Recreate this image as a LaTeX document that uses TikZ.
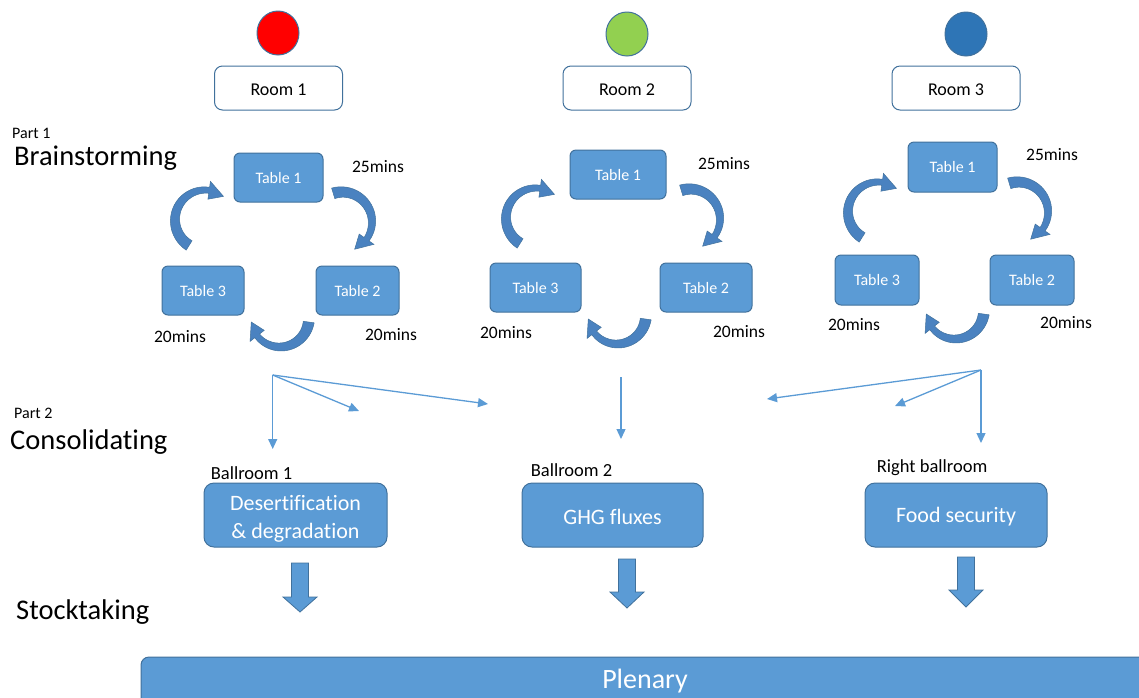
\documentclass[tikz,border=0pt]{standalone}
\usepackage{fontspec}
\setmainfont{Carlito}[Ligatures=NoCommon]
\usetikzlibrary{arrows.meta,shapes.geometric}
\definecolor{bfill}{RGB}{91,155,213}
\definecolor{bord}{RGB}{65,113,156}
\definecolor{carrfill}{RGB}{74,130,192}
\definecolor{cgreen}{RGB}{146,208,80}
\definecolor{cblue}{RGB}{46,117,182}
\newcommand\fsz[1]{\fontsize{#1}{#1}\selectfont}
\newcommand\dropby[2]{\raisebox{-#1}[\height][\depth]{#2}}
% curved block arrow: cx cy R startangle endangle
\newcommand\carr[5]{%
 \pgfmathsetmacro\hs{#5-30}%
 \fill[carrfill, draw=bord, line width=0.5pt]
 plot[domain=#4:\hs, samples=25] ({#1+(#3+(11-5*(\x-(#4))/(\hs-(#4)))/2)*cos(\x)},{#2+(#3+(11-5*(\x-(#4))/(\hs-(#4)))/2)*sin(\x)})
 -- ({#1+(#3+9)*cos(\hs)},{#2+(#3+9)*sin(\hs)})
 -- ({#1+#3*cos(#5)},{#2+#3*sin(#5)})
 -- ({#1+(#3-9)*cos(\hs)},{#2+(#3-9)*sin(\hs)})
 -- plot[domain=\hs:#4, samples=25] ({#1+(#3-(11-5*(\x-(#4))/(\hs-(#4)))/2)*cos(\x)},{#2+(#3-(11-5*(\x-(#4))/(\hs-(#4)))/2)*sin(\x)})
 -- cycle;}
% block down arrow: x ytop yhead ytip
\newcommand\darr[4]{%
 \fill[bfill, draw=bord, line width=0.8pt] ({#1-8.5},#2) -- ({#1+8.5},#2) -- ({#1+8.5},#3) -- ({#1+17},#3) -- (#1,#4) -- ({#1-17},#3) -- ({#1-8.5},#3) -- cycle;}
\begin{document}
\begin{tikzpicture}[x=1pt,y=-1pt,
  tbl/.style={draw=bord, fill=bfill, line width=1pt, rounded corners=6pt, text=white, font=\fsz{16}, minimum height=49pt, inner sep=0pt},
  roombox/.style={draw=bord, fill=white, line width=1pt, rounded corners=8pt, font=\fsz{18}, minimum width=128pt, minimum height=44pt, inner sep=0pt},
  ballbox/.style={draw=bord, fill=bfill, line width=1pt, rounded corners=10pt, text=white, font=\fontsize{22}{28}\selectfont, minimum height=64pt, inner sep=0pt, align=center},
  dot/.style={ellipse, draw=bord, line width=1pt, minimum width=42pt, minimum height=44pt, inner sep=0pt},
  lbl/.style={inner sep=0pt, font=\fsz{17.5}},
  head/.style={inner sep=0pt, anchor=west, font=\fsz{28.5}},
  part/.style={inner sep=0pt, anchor=west, font=\fsz{16}},
  blbl/.style={inner sep=0pt, anchor=west, font=\fsz{18.5}},
  sarr/.style={draw=bfill, line width=1.3pt, -{Triangle[length=10pt,width=9pt]}}
]
\useasboundingbox (0,0) rectangle (1139,697);
% circles
\node[dot, fill=red] (c1) at (278,33) {};
\node[dot, fill=cgreen] (c2) at (627,34) {};
\node[dot, fill=cblue] (c3) at (966,34) {};
% rooms
\node[roombox] (r1) at (278.5,88) {\dropby{1.5pt}{Room 1}};
\node[roombox] (r2) at (627,88) {\dropby{1.5pt}{Room 2}};
\node[roombox] (r3) at (956,88) {\dropby{1.5pt}{Room 3}};
% headings
\node[part] (p1) at (12,133) {Part 1};
\node[head] (h1) at (14,158) {Brainstorming};
\node[part] (p2) at (14,413) {Part 2};
\node[head] (h2) at (10,442) {Consolidating};
\node[head] (h3) at (16,612) {Stocktaking};
% room 1 tables
\node[tbl, minimum width=89pt] (a1) at (278.5,177.5) {Table 1};
\node[tbl, minimum width=82pt] (a3) at (203,290.5) {Table 3};
\node[tbl, minimum width=83pt] (a2) at (357.5,290.5) {Table 2};
% room 2 tables
\node[tbl, minimum width=96pt] (b1) at (618,174.5) {Table 1};
\node[tbl, minimum width=91pt] (b3) at (535.5,287.5) {Table 3};
\node[tbl, minimum width=92pt] (b2) at (706,287.5) {Table 2};
% room 3 tables
\node[tbl, minimum width=89pt, minimum height=50pt] (d1) at (952.5,167) {Table 1};
\node[tbl, minimum width=84pt, minimum height=50pt] (d3) at (877,280) {Table 3};
\node[tbl, minimum width=84pt, minimum height=50pt] (d2) at (1032,280) {Table 2};
% time labels
\node[lbl] (t1a) at (378,167) {25mins};
\node[lbl] (t1b) at (180,337) {20mins};
\node[lbl] (t1c) at (391,335) {20mins};
\node[lbl] (t2a) at (724,164) {25mins};
\node[lbl] (t2b) at (506,333) {20mins};
\node[lbl] (t2c) at (739,332) {20mins};
\node[lbl] (t3a) at (1052,155) {25mins};
\node[lbl] (t3b) at (854,325) {20mins};
\node[lbl] (t3c) at (1066,323) {20mins};
% curved arrows
\carr{205}{220}{30}{122}{308}
\carr{342}{222}{30}{-107}{65}
\carr{280}{318}{29}{8}{172}
\carr{536}{218}{30}{122}{308}
\carr{690}{219}{30}{-107}{65}
\carr{617}{315}{29}{8}{172}
\carr{878}{212}{30}{122}{308}
\carr{1018}{212}{30}{-107}{65}
\carr{955}{310}{29}{8}{172}
% small arrows
\coordinate (s1) at (272.7,375);
\coordinate (s1a) at (272.7,449);
\coordinate (s1b) at (359,411);
\coordinate (s1c) at (488,404);
\coordinate (s2) at (621,377);
\coordinate (s2a) at (621,439);
\coordinate (s3) at (981,370);
\coordinate (s3a) at (981,443);
\coordinate (s3b) at (895,406);
\coordinate (s3c) at (767,399);
\draw[sarr] (s1) -- (s1a);
\draw[sarr] (s1) -- (s1b);
\draw[sarr] (s1) -- (s1c);
\draw[sarr] (s2) -- (s2a);
\draw[sarr] (s3) -- (s3a);
\draw[sarr] (s3) -- (s3b);
\draw[sarr] (s3) -- (s3c);
% ballrooms
\node[blbl] (l1) at (210.7,473) {Ballroom 1};
\node[blbl] (l2) at (530.7,470) {Ballroom 2};
\node[blbl] (l3) at (876.7,468) {Right ballroom};
\node[ballbox, minimum width=183pt] (e1) at (295.5,515) {\dropby{4pt}{\begin{tabular}{@{}c@{}}Desertification\\\& degradation\end{tabular}}};
\node[ballbox, minimum width=181pt] (e2) at (612.5,515) {\dropby{2pt}{GHG fluxes}};
\node[ballbox, minimum width=182pt] (e3) at (956,515) {\dropby{2pt}{Food security}};
% block arrows
\darr{300}{563}{597}{612}
\darr{627}{559}{592}{608}
\darr{966}{557}{590}{607}
% plenary
\begin{scope}
\clip (0,0) rectangle (1139,697);
\node[draw=bord, fill=bfill, line width=1pt, rounded corners=8pt, text=white, font=\fsz{28}, minimum width=1008pt, minimum height=48pt, inner sep=0pt] (pl) at (645,681) {Plenary};
\end{scope}
\end{tikzpicture}
\end{document}
